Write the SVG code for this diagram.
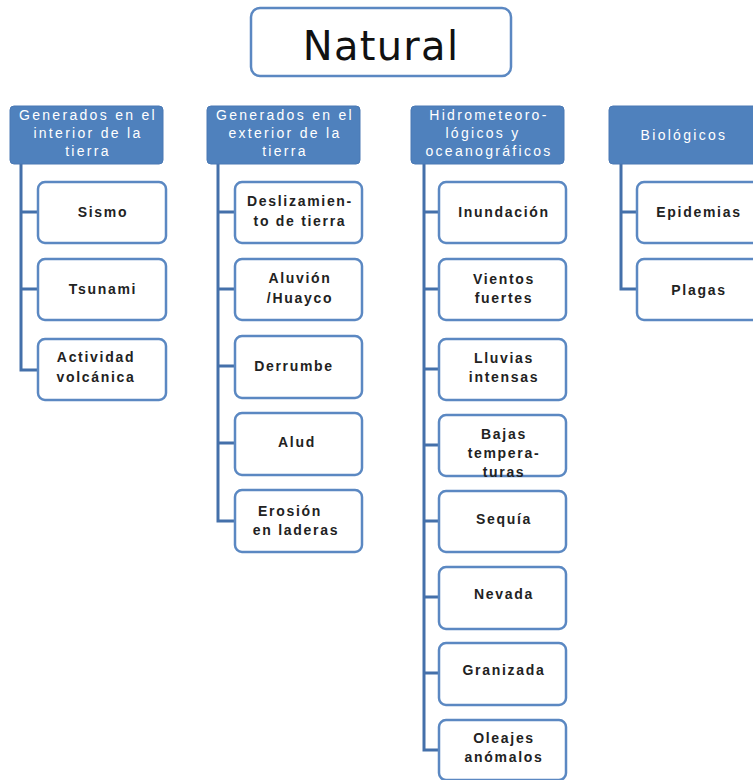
<svg xmlns="http://www.w3.org/2000/svg" width="753" height="780" viewBox="0 0 753 780">
<style>
.hdr{fill:#4f81bd;stroke:#4a78b4;stroke-width:1}
.box{fill:#fff;stroke:#5b88c2;stroke-width:2.5}
.ht{font-family:"Liberation Sans",Arial,sans-serif;font-size:14px;fill:#fff;text-anchor:middle;letter-spacing:2.3px}
.ct{font-family:"Liberation Sans",Arial,sans-serif;font-size:14px;font-weight:bold;fill:#222;text-anchor:middle;letter-spacing:1.7px}
.con{fill:none;stroke:#4470aa;stroke-width:3}
</style>
<rect width="753" height="780" fill="#fff"/>
<g id="natural">
<rect x="251" y="8" width="260" height="68" rx="9" fill="#fff" stroke="#5b88c2" stroke-width="2.5"/>
<text x="381" y="60" font-family="DejaVu Sans,sans-serif" font-size="40" fill="#111" text-anchor="middle" letter-spacing="1.3">Natural</text>
</g>
<g id="connectors">
<path class="con" d="M21 164V370H38M21 212H38M21 289H38"/>
<path class="con" d="M218 164V521H235M218 212H235M218 289H235M218 366H235M218 443H235"/>
<path class="con" d="M424 164V750H439M424 212H439M424 289H439M424 369H439M424 445H439M424 521H439M424 597H439M424 673H439"/>
<path class="con" d="M621 164V289H637M621 212H637"/>
</g>
<g id="h1"><rect class="hdr" x="10" y="106" width="153" height="58" rx="4"/>
<text class="ht" x="88" y="120">Generados en el</text><text class="ht" x="88" y="138">interior de la</text><text class="ht" x="88" y="156">tierra</text></g>
<g id="h2"><rect class="hdr" x="207" y="106" width="153" height="58" rx="4"/>
<text class="ht" x="285" y="120">Generados en el</text><text class="ht" x="285" y="138">exterior de la</text><text class="ht" x="285" y="156">tierra</text></g>
<g id="h3"><rect class="hdr" x="411" y="106" width="153" height="58" rx="4"/>
<text class="ht" x="489" y="120">Hidrometeoro-</text><text class="ht" x="483" y="138">lógicos  y</text><text class="ht" x="489" y="156">oceanográficos</text></g>
<g id="h4"><rect class="hdr" x="609" y="106" width="160" height="58" rx="4"/>
<text class="ht" x="684" y="140">Biológicos</text></g>

<g id="sismo"><rect class="box" x="38" y="182" width="128" height="61" rx="7"/><text class="ct" x="103" y="217">Sismo</text></g>
<g id="tsunami"><rect class="box" x="38" y="259" width="128" height="61" rx="7"/><text class="ct" x="103" y="294">Tsunami</text></g>
<g id="actividad"><rect class="box" x="38" y="339" width="128" height="61" rx="7"/><text class="ct" x="96" y="362">Actividad</text><text class="ct" x="96" y="382">volcánica</text></g>

<g id="deslizamiento"><rect class="box" x="235" y="182" width="127" height="61" rx="7"/><text class="ct" x="300" y="206">Deslizamien-</text><text class="ct" x="300" y="226">to de tierra</text></g>
<g id="aluvion"><rect class="box" x="235" y="259" width="127" height="61" rx="7"/><text class="ct" x="300" y="283">Aluvión</text><text class="ct" x="300" y="303">/Huayco</text></g>
<g id="derrumbe"><rect class="box" x="235" y="336" width="127" height="62" rx="7"/><text class="ct" x="294" y="371">Derrumbe</text></g>
<g id="alud"><rect class="box" x="235" y="413" width="127" height="62" rx="7"/><text class="ct" x="297" y="447">Alud</text></g>
<g id="erosion"><rect class="box" x="235" y="490" width="127" height="62" rx="7"/><text class="ct" x="290" y="516">Erosión</text><text class="ct" x="296" y="535">en laderas</text></g>

<g id="inundacion"><rect class="box" x="439" y="182" width="127" height="61" rx="7"/><text class="ct" x="504" y="217">Inundación</text></g>
<g id="vientos"><rect class="box" x="439" y="259" width="127" height="61" rx="7"/><text class="ct" x="504" y="284">Vientos</text><text class="ct" x="504" y="303">fuertes</text></g>
<g id="lluvias"><rect class="box" x="439" y="339" width="127" height="61" rx="7"/><text class="ct" x="504" y="363">Lluvias</text><text class="ct" x="504" y="382">intensas</text></g>
<g id="bajas"><rect class="box" x="439" y="415" width="127" height="61" rx="7"/><text class="ct" x="504" y="439">Bajas</text><text class="ct" x="504" y="458">tempera-</text><text class="ct" x="504" y="477">turas</text></g>
<g id="sequia"><rect class="box" x="439" y="491" width="127" height="61" rx="7"/><text class="ct" x="504" y="524">Sequía</text></g>
<g id="nevada"><rect class="box" x="439" y="567" width="127" height="62" rx="7"/><text class="ct" x="504" y="599">Nevada</text></g>
<g id="granizada"><rect class="box" x="439" y="643" width="127" height="62" rx="7"/><text class="ct" x="504" y="675">Granizada</text></g>
<g id="oleajes"><rect class="box" x="439" y="720" width="127" height="60" rx="7"/><text class="ct" x="504" y="743">Oleajes</text><text class="ct" x="504" y="762">anómalos</text></g>

<g id="epidemias"><rect class="box" x="637" y="182" width="130" height="61" rx="7"/><text class="ct" x="699" y="217">Epidemias</text></g>
<g id="plagas"><rect class="box" x="637" y="259" width="130" height="61" rx="7"/><text class="ct" x="699" y="295">Plagas</text></g>
</svg>
